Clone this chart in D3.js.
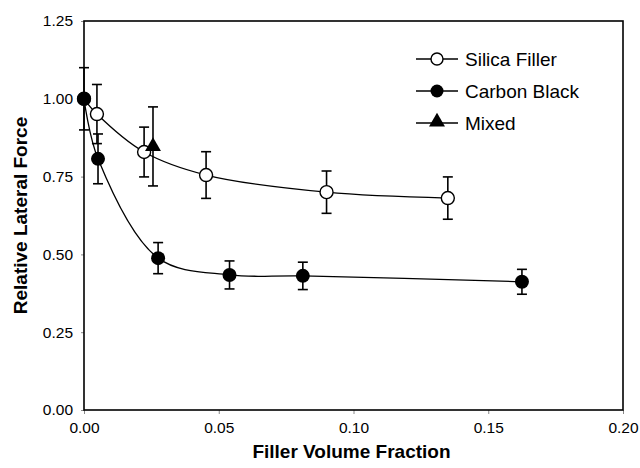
<!DOCTYPE html>
<html>
<head>
<meta charset="utf-8">
<script src="https://cdn.jsdelivr.net/npm/d3@7"></script>
<style>
  body { margin: 0; background: #fff; }
  svg text { font-family: "Liberation Sans", Arial, sans-serif; fill: #000; }
</style>
</head>
<body>
<div id="chart"></div>
<script>
// values
var silicaX = [0, 0.0048, 0.0223, 0.0453, 0.090, 0.135];
var silicaY = [1.00, 0.951, 0.829, 0.755, 0.700, 0.681];
var silicaErr = [0, 0.095, 0.08, 0.075, 0.068, 0.068];

var carbonX = [0, 0.0052, 0.0275, 0.054, 0.0812, 0.1625];
var carbonY = [1.00, 0.807, 0.488, 0.434, 0.431, 0.412];
var carbonErr = [0.10, 0.08, 0.05, 0.045, 0.044, 0.04];

var mixedX = [0.0256];
var mixedY = [0.847];
var mixedErr = [0.127];

var xTicks = [0, 0.05, 0.10, 0.15, 0.20];
var yTicks = [0, 0.25, 0.50, 0.75, 1.00, 1.25];
var legendNames = ["Silica Filler", "Carbon Black", "Mixed"];

var W = 640, H = 468;
var margin = {top: 21, right: 17, bottom: 58, left: 84};
var w = W - margin.left - margin.right,
    h = H - margin.top - margin.bottom;

var svg = d3.select("#chart").append("svg")
    .attr("width", W).attr("height", H);
var g = svg.append("g")
    .attr("transform", "translate(" + margin.left + "," + margin.top + ")");

var x = d3.scaleLinear().domain([0, 0.2]).range([0, w]);
var y = d3.scaleLinear().domain([0, 1.25]).range([h, 0]);

function pts(xs, ys, es) {
    return xs.map(function(v, i) { return {x: v, y: ys[i], e: es[i]}; });
}
var silica = pts(silicaX, silicaY, silicaErr);
var carbon = pts(carbonX, carbonY, carbonErr);
var mixed = pts(mixedX, mixedY, mixedErr);

// axes
var xAxis = g.append("g")
    .attr("transform", "translate(0," + h + ")")
    .call(d3.axisBottom(x).tickValues(xTicks).tickFormat(d3.format(".2f")).tickSize(4).tickPadding(8));
var yAxis = g.append("g")
    .call(d3.axisLeft(y).tickValues(yTicks).tickFormat(d3.format(".2f")).tickSize(3).tickPadding(8));

svg.selectAll(".tick text").style("font-size", "15.5px");
svg.selectAll(".tick line").style("stroke", "#888");
svg.selectAll("path.domain").remove();

// frame
g.append("rect")
    .attr("width", w).attr("height", h)
    .attr("fill", "none").attr("stroke", "#000").attr("stroke-width", 1.6);

// curves
var line = d3.line()
    .x(function(d) { return x(d.x); })
    .y(function(d) { return y(d.y); })
    .curve(d3.curveCatmullRom.alpha(0.5));

[silica, carbon].forEach(function(s) {
    g.append("path").datum(s)
        .attr("d", line)
        .attr("fill", "none").attr("stroke", "#000").attr("stroke-width", 1.3);
});

// error bars
function errBars(s) {
    var eb = g.append("g").selectAll("g").data(s.filter(function(d) { return d.e > 0; }))
        .enter().append("g").attr("stroke", "#000").attr("stroke-width", 1.6);
    eb.append("line")
        .attr("x1", function(d) { return x(d.x); }).attr("x2", function(d) { return x(d.x); })
        .attr("y1", function(d) { return y(d.y - d.e); }).attr("y2", function(d) { return y(d.y + d.e); });
    eb.append("line")
        .attr("x1", function(d) { return x(d.x) - 5; }).attr("x2", function(d) { return x(d.x) + 5; })
        .attr("y1", function(d) { return y(d.y + d.e); }).attr("y2", function(d) { return y(d.y + d.e); });
    eb.append("line")
        .attr("x1", function(d) { return x(d.x) - 5; }).attr("x2", function(d) { return x(d.x) + 5; })
        .attr("y1", function(d) { return y(d.y - d.e); }).attr("y2", function(d) { return y(d.y - d.e); });
}
errBars(silica);
errBars(mixed);
errBars(carbon);

var tri = d3.symbol().type(d3.symbolTriangle).size(110);

g.selectAll(".sil").data(silica).enter().append("circle")
    .attr("cx", function(d) { return x(d.x); }).attr("cy", function(d) { return y(d.y); })
    .attr("r", 6.5).attr("fill", "#fff").attr("stroke", "#000").attr("stroke-width", 1.4);
g.selectAll(".mix").data(mixed).enter().append("path")
    .attr("d", tri)
    .attr("transform", function(d) { return "translate(" + x(d.x) + "," + y(d.y) + ")"; })
    .attr("fill", "#000");
g.selectAll(".car").data(carbon).enter().append("circle")
    .attr("cx", function(d) { return x(d.x); }).attr("cy", function(d) { return y(d.y); })
    .attr("r", 7).attr("fill", "#000");

// legend
var leg = svg.append("g").attr("transform", "translate(416,59)");
legendNames.forEach(function(name, i) {
    var row = leg.append("g").attr("transform", "translate(0," + (i * 32) + ")");
    row.append("line").attr("x1", 0).attr("x2", 42)
        .attr("stroke", "#000").attr("stroke-width", 1.3);
    if (i === 0) {
        row.append("circle").attr("cx", 21).attr("r", 6)
            .attr("fill", "#fff").attr("stroke", "#000").attr("stroke-width", 1.4);
    } else if (i === 1) {
        row.append("circle").attr("cx", 21).attr("r", 6.5).attr("fill", "#000");
    } else {
        row.append("path").attr("d", tri).attr("transform", "translate(21,-1)").attr("fill", "#000");
    }
    row.append("text").attr("x", 49).attr("dy", "0.35em")
        .style("font-size", "19px").text(name);
});

// axis titles
svg.append("text")
    .attr("x", margin.left + w / 2 - 2).attr("y", 458)
    .attr("text-anchor", "middle")
    .style("font-size", "19px").style("font-weight", "bold")
    .text("Filler Volume Fraction");
svg.append("text")
    .attr("transform", "translate(20," + (margin.top + h / 2) + ") rotate(-90)")
    .attr("text-anchor", "middle").attr("dy", "0.35em")
    .style("font-size", "19px").style("font-weight", "bold")
    .text("Relative Lateral Force");
</script>
</body>
</html>
